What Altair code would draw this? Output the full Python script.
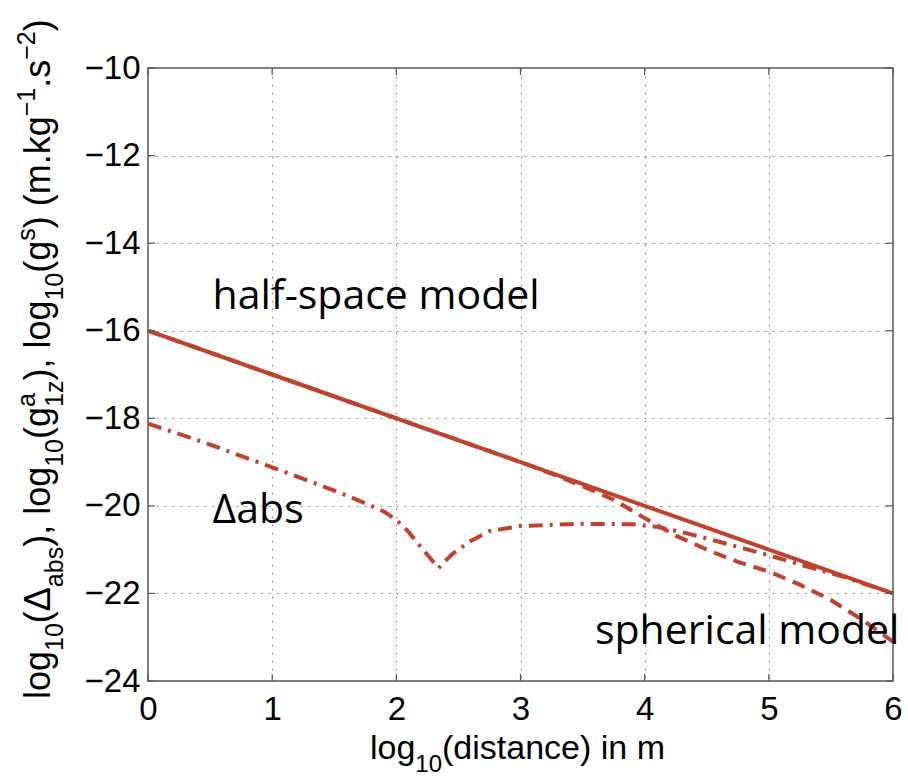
import altair as alt
import pandas as pd

# ---------------- data ----------------
half_x = [0, 1, 2, 3, 4, 5, 6]
half_y = [-16, -17, -18, -19, -20, -21, -22]

sph_x = [0, 1, 2, 3, 3.3, 3.5, 3.75, 4.0, 4.25, 4.5, 4.75, 5.0, 5.25, 5.5, 5.75, 6.0]
sph_y = [-16, -17, -18, -19, -19.32, -19.55, -19.86, -20.28, -20.68, -21.0, -21.28,
         -21.5, -21.8, -22.15, -22.6, -23.1]

dabs_x = [0, 0.5, 1.0, 1.5, 1.7, 1.9, 2.0, 2.1, 2.2, 2.34, 2.45, 2.6, 2.75, 3.0, 3.5,
          3.9, 4.1, 4.3, 4.6, 5.0, 5.3, 5.6, 6.0]
dabs_y = [-18.12, -18.6, -19.12, -19.65, -19.88, -20.13, -20.32, -20.6, -20.95, -21.42,
          -21.1, -20.8, -20.58, -20.46, -20.41, -20.42, -20.48, -20.6, -20.82, -21.13,
          -21.38, -21.62, -22.0]

x_ticks = [0, 1, 2, 3, 4, 5, 6]
y_ticks = [-10, -12, -14, -16, -18, -20, -22, -24]

ann_text = ["half-space model", "Δabs", "spherical model"]
ann_x = [0.52, 0.52, 3.6]
ann_y = [-15.5, -20.4, -23.15]

# ---------------- layout ----------------
W, H = 745, 613
PAD = {"left": 148, "top": 68, "right": 15, "bottom": 96}
RED = "#c0412c"
AX_FONT = "Liberation Sans"
S = 33          # tick label size
ST = 34         # x axis title size
SY = 36         # y axis title size

xs = alt.Scale(domain=[0, 6], nice=False, zero=False)
ys = alt.Scale(domain=[-24, -10], nice=False, zero=False)

xaxis = alt.Axis(values=x_ticks, format="d", grid=True, gridDash=[2, 6], gridColor="#8a8a8a",
                 gridWidth=1.2, ticks=False, tickSize=0, domain=False, labelFont=AX_FONT,
                 labelFontSize=S, labelColor="black", labelPadding=12, title=None,
                 labelFlush=False)
yaxis = alt.Axis(values=y_ticks, format="d", grid=True, gridDash=[2, 6], gridColor="#8a8a8a",
                 gridWidth=1.2, ticks=False, tickSize=0, domain=False, labelFont=AX_FONT,
                 labelFontSize=S, labelColor="black", labelPadding=8, title=None,
                 labelFlush=False)

X = alt.X("dist:Q", scale=xs, axis=xaxis)
Y = alt.Y("val:Q", scale=ys, axis=yaxis)

half_df = pd.DataFrame({"dist": half_x, "val": half_y})
sph_df = pd.DataFrame({"dist": sph_x, "val": sph_y})
dabs_df = pd.DataFrame({"dist": dabs_x, "val": dabs_y})

half = alt.Chart(half_df).mark_line(color=RED, strokeWidth=4).encode(x=X, y=Y)
sph = alt.Chart(sph_df).mark_line(color=RED, strokeWidth=4, strokeDash=[13, 8]).encode(x=X, y=Y)
dabs = alt.Chart(dabs_df).mark_line(color=RED, strokeWidth=4,
                                    strokeDash=[14, 7, 3, 7]).encode(x=X, y=Y)

# inward ticks (box style)
xt_df = pd.DataFrame({"dist": x_ticks})
yt_df = pd.DataFrame({"val": y_ticks})
TK = "#555555"
xt_bot = alt.Chart(xt_df).mark_rule(color=TK, strokeWidth=1.2).encode(
    x=X, y=alt.value(H), y2=alt.value(H - 7))
xt_top = alt.Chart(xt_df).mark_rule(color=TK, strokeWidth=1.2).encode(
    x=X, y=alt.value(0), y2=alt.value(7))
yt_l = alt.Chart(yt_df).mark_rule(color=TK, strokeWidth=1.2).encode(
    y=Y, x=alt.value(0), x2=alt.value(7))
yt_r = alt.Chart(yt_df).mark_rule(color=TK, strokeWidth=1.2).encode(
    y=Y, x=alt.value(W), x2=alt.value(W - 7))

# annotations
ann_df = pd.DataFrame({"label": ann_text, "dist": ann_x, "val": ann_y})
ann = alt.Chart(ann_df).mark_text(font="Open Sans", fontSize=41, align="left",
                                  baseline="alphabetic", color="black").encode(
    x=X, y=Y, text="label:N")

# ---------------- composed axis titles (sub/superscripts) ----------------
# Arial / Liberation Sans advance widths (per 1 em)
AW = {"l": .222, "o": .556, "g": .556, "1": .556, "0": .556, "(": .333, ")": .333,
      "Δ": .668, "a": .556, "b": .556, "s": .5, ",": .278, " ": .278, "z": .5,
      "m": .833, ".": .278, "k": .5, "−": .584, "2": .556, "d": .556, "i": .222,
      "t": .278, "n": .556, "c": .5, "e": .556}


def tw(t, size):
    return sum(AW.get(ch, .556) for ch in t) * size


ytitle = [("log", "n"), ("10", "b"), ("(Δ", "n"), ("abs", "b"), ("), log", "n"),
          ("10", "b"), ("(g", "n"), (("a", "1z"), "pb"), ("), log", "n"), ("10", "b"),
          ("(g", "n"), ("s", "p"), (") (m.kg", "n"), ("−1", "p"), (".s", "n"),
          ("−2", "p"), (")", "n")]
xtitle = [("log", "n"), ("10", "b"), ("(distance) in m", "n")]

SUB_SHIFT = 13
SUP_SHIFT = -15


def segments(parts, size):
    out = []
    pos = 0.0
    sub = round(size * 0.7)
    for t, k in parts:
        if k == "n":
            out.append((t, pos, 0, size))
            pos += tw(t, size)
        elif k == "b":
            out.append((t, pos, SUB_SHIFT, sub))
            pos += tw(t, sub)
        elif k == "p":
            out.append((t, pos, SUP_SHIFT, sub))
            pos += tw(t, sub)
        else:
            sp, sb = t
            out.append((sp, pos, SUP_SHIFT, sub))
            out.append((sb, pos, SUB_SHIFT, sub))
            pos += max(tw(sp, sub), tw(sb, sub))
    return out, pos


layers = [half, sph, dabs, xt_bot, xt_top, yt_l, yt_r, ann]

# y title: rotated, reading bottom to top
ysegs, ylen = segments(ytitle, SY)
Y_BASE_X = 50 - PAD["left"]
Y_START = 699 - PAD["top"]
for t, along, shift, size in ysegs:
    layers.append(
        alt.Chart(pd.DataFrame({"t": [t]})).mark_text(
            font=AX_FONT, fontSize=size, angle=270, align="left", baseline="alphabetic",
            color="black").encode(text="t:N", x=alt.value(Y_BASE_X + shift),
                                  y=alt.value(Y_START - along)))

# x title
xsegs, xlen = segments(xtitle, ST)
X_START = 370 - PAD["left"]
X_BASE_Y = 759 - PAD["top"]
for t, along, shift, size in xsegs:
    layers.append(
        alt.Chart(pd.DataFrame({"t": [t]})).mark_text(
            font=AX_FONT, fontSize=size, align="left", baseline="alphabetic",
            color="black").encode(text="t:N", x=alt.value(X_START + along),
                                  y=alt.value(X_BASE_Y + shift)))

chart = alt.layer(*layers).properties(
    width=W, height=H, padding=PAD, autosize=alt.AutoSizeParams(type="none"),
    background="white"
).configure_view(stroke="#555555", strokeWidth=1.5)

chart.save("out.html", embed_options={"renderer": "svg", "actions": False})
